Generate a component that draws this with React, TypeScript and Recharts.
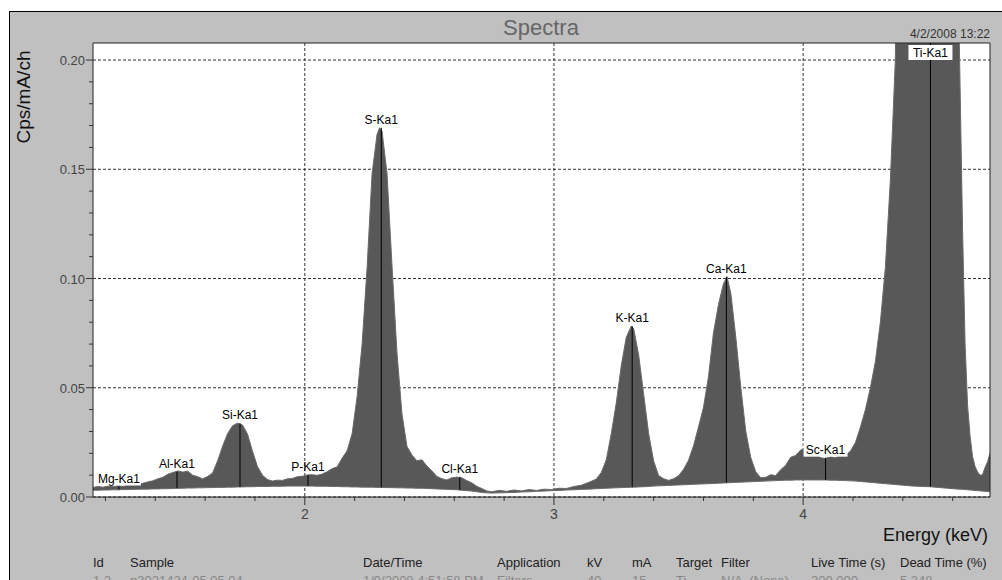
import { ComposedChart, Area, XAxis, YAxis, CartesianGrid, ReferenceLine, ReferenceArea } from 'recharts';

const FONT = 'Arial, "Liberation Sans", sans-serif';

// spectrum (keV, cps/mA/ch)
const ENERGY = [
  1.15, 1.17, 1.19, 1.21, 1.23, 1.25, 1.27, 1.29, 1.31, 1.33,
  1.35, 1.37, 1.39, 1.41, 1.43, 1.45, 1.47, 1.49, 1.51, 1.53,
  1.55, 1.57, 1.59, 1.61, 1.63, 1.65, 1.67, 1.69, 1.71, 1.73,
  1.75, 1.77, 1.79, 1.81, 1.83, 1.85, 1.87, 1.89, 1.91, 1.93,
  1.95, 1.97, 1.99, 2.01, 2.03, 2.05, 2.07, 2.09, 2.11, 2.13,
  2.15, 2.17, 2.19, 2.21, 2.23, 2.25, 2.27, 2.29, 2.30, 2.31,
  2.33, 2.35, 2.37, 2.39, 2.41, 2.43, 2.45, 2.47, 2.49, 2.51,
  2.53, 2.55, 2.57, 2.59, 2.61, 2.63, 2.65, 2.67, 2.69, 2.71,
  2.73, 2.75, 2.78, 2.81, 2.84, 2.87, 2.90, 2.93, 2.96, 2.99,
  3.02, 3.05, 3.08, 3.11, 3.14, 3.17, 3.19, 3.21, 3.23, 3.25,
  3.27, 3.29, 3.31, 3.32, 3.34, 3.36, 3.38, 3.40, 3.42, 3.44,
  3.46, 3.48, 3.50, 3.52, 3.54, 3.56, 3.58, 3.60, 3.62, 3.64,
  3.66, 3.68, 3.695, 3.71, 3.73, 3.75, 3.77, 3.79, 3.81, 3.83,
  3.85, 3.87, 3.89, 3.91, 3.93, 3.95, 3.97, 3.99, 4.01, 4.03,
  4.05, 4.07, 4.09, 4.11, 4.13, 4.15, 4.17, 4.19, 4.21, 4.23,
  4.25, 4.27, 4.29, 4.31, 4.33, 4.35, 4.36, 4.37, 4.38, 4.40,
  4.44, 4.48, 4.51, 4.54, 4.58, 4.61, 4.625, 4.64, 4.65, 4.66,
  4.67, 4.68, 4.69, 4.70, 4.71, 4.72, 4.73, 4.74, 4.75,
];

const COUNTS = [
  0.0044, 0.0048, 0.0045, 0.0050, 0.0047, 0.0052, 0.0049, 0.0054, 0.0056, 0.0059,
  0.0063, 0.0069, 0.0074, 0.0083, 0.0090, 0.0104, 0.0112, 0.0119, 0.0114, 0.0118,
  0.0100, 0.0093, 0.0083, 0.0094, 0.0110, 0.0165, 0.0232, 0.0290, 0.0326, 0.0338,
  0.0330, 0.0288, 0.0210, 0.0140, 0.0100, 0.0080, 0.0073, 0.0077, 0.0076, 0.0083,
  0.0085, 0.0093, 0.0095, 0.0101, 0.0102, 0.0099, 0.0105, 0.0116, 0.0130, 0.0138,
  0.0178, 0.0212, 0.0290, 0.0460, 0.0700, 0.1050, 0.1480, 0.1660, 0.1690, 0.1675,
  0.1480, 0.1060, 0.0660, 0.0380, 0.0232, 0.0192, 0.0166, 0.0170, 0.0142, 0.0120,
  0.0094, 0.0084, 0.0078, 0.0088, 0.0091, 0.0088, 0.0075, 0.0065, 0.0049, 0.0039,
  0.0028, 0.0024, 0.0030, 0.0026, 0.0032, 0.0028, 0.0034, 0.0030, 0.0036, 0.0034,
  0.0040, 0.0039, 0.0048, 0.0054, 0.0067, 0.0082, 0.0112, 0.0170, 0.0290, 0.0430,
  0.0600, 0.0730, 0.0782, 0.0770, 0.0650, 0.0470, 0.0290, 0.0165, 0.0098, 0.0084,
  0.0076, 0.0084, 0.0097, 0.0126, 0.0168, 0.0234, 0.0320, 0.0410, 0.0550, 0.0750,
  0.0880, 0.0975, 0.1008, 0.0930, 0.0730, 0.0500, 0.0300, 0.0180, 0.0115, 0.0088,
  0.0090, 0.0102, 0.0098, 0.0125, 0.0145, 0.0182, 0.0190, 0.0215, 0.0222, 0.0205,
  0.0200, 0.0180, 0.0176, 0.0185, 0.0180, 0.0196, 0.0190, 0.0210, 0.0250, 0.0320,
  0.0400, 0.0500, 0.0620, 0.0800, 0.1050, 0.1450, 0.1720, 0.2000, 0.2800, 0.5500,
  1.0000, 1.4000, 1.5000, 1.3000, 0.8000, 0.4000, 0.2200, 0.1220, 0.0700, 0.0420,
  0.0280, 0.0185, 0.0140, 0.0115, 0.0100, 0.0102, 0.0135, 0.0160, 0.0200,
];

const BACKGROUND = [
  0.0031, 0.0031, 0.0032, 0.0032, 0.0033, 0.0033, 0.0034, 0.0034, 0.0035, 0.0035,
  0.0036, 0.0036, 0.0037, 0.0037, 0.0038, 0.0038, 0.0039, 0.0040, 0.0040, 0.0041,
  0.0041, 0.0042, 0.0042, 0.0043, 0.0043, 0.0044, 0.0044, 0.0045, 0.0045, 0.0046,
  0.0046, 0.0047, 0.0047, 0.0048, 0.0048, 0.0048, 0.0049, 0.0049, 0.0049, 0.0050,
  0.0050, 0.0050, 0.0050, 0.0050, 0.0050, 0.0049, 0.0049, 0.0049, 0.0048, 0.0048,
  0.0047, 0.0047, 0.0046, 0.0046, 0.0045, 0.0045, 0.0045, 0.0044, 0.0044, 0.0044,
  0.0043, 0.0043, 0.0042, 0.0042, 0.0041, 0.0041, 0.0040, 0.0040, 0.0039, 0.0038,
  0.0037, 0.0036, 0.0035, 0.0034, 0.0033, 0.0031, 0.0029, 0.0027, 0.0024, 0.0021,
  0.0019, 0.0018, 0.0019, 0.0020, 0.0021, 0.0023, 0.0024, 0.0026, 0.0027, 0.0029,
  0.0030, 0.0032, 0.0033, 0.0035, 0.0036, 0.0038, 0.0039, 0.0040, 0.0041, 0.0042,
  0.0043, 0.0044, 0.0045, 0.0045, 0.0046, 0.0047, 0.0048, 0.0050, 0.0051, 0.0052,
  0.0053, 0.0054, 0.0055, 0.0056, 0.0057, 0.0058, 0.0059, 0.0060, 0.0061, 0.0062,
  0.0063, 0.0064, 0.0065, 0.0066, 0.0067, 0.0068, 0.0069, 0.0070, 0.0071, 0.0072,
  0.0073, 0.0074, 0.0075, 0.0076, 0.0077, 0.0077, 0.0078, 0.0078, 0.0078, 0.0078,
  0.0078, 0.0078, 0.0078, 0.0077, 0.0077, 0.0076, 0.0075, 0.0074, 0.0073, 0.0071,
  0.0069, 0.0067, 0.0065, 0.0063, 0.0061, 0.0059, 0.0058, 0.0057, 0.0056, 0.0054,
  0.0050, 0.0048, 0.0047, 0.0044, 0.0040, 0.0037, 0.0036, 0.0035, 0.0034, 0.0033,
  0.0032, 0.0031, 0.0030, 0.0029, 0.0028, 0.0027, 0.0026, 0.0025, 0.0024,
];

// element lines
const PEAK_NAMES = ['Mg-Ka1', 'Al-Ka1', 'Si-Ka1', 'P-Ka1', 'S-Ka1', 'Cl-Ka1', 'K-Ka1', 'Ca-Ka1', 'Sc-Ka1', 'Ti-Ka1'];
const PEAK_ENERGY = [1.254, 1.487, 1.740, 2.013, 2.307, 2.622, 3.314, 3.692, 4.090, 4.511];
const PEAK_BASE = [0.0034, 0.0040, 0.0046, 0.0050, 0.0044, 0.0032, 0.0045, 0.0065, 0.0078, 0.0047];
const PEAK_TOP = [0.0048, 0.0116, 0.0337, 0.0100, 0.1690, 0.0092, 0.0782, 0.1008, 0.0180, 0.2078];
const BOXED = ['Mg-Ka1', 'Sc-Ka1', 'Ti-Ka1'];

const X_MIN = 1.15;
const X_MAX = 4.75;
const Y_MAX = 0.2078;

const X_TICKS = [1.2, 1.4, 1.6, 1.8, 2, 2.2, 2.4, 2.6, 2.8, 3, 3.2, 3.4, 3.6, 3.8, 4, 4.2, 4.4, 4.6];
const X_MAJOR = [2, 3, 4];
const Y_TICKS = [0, 0.01, 0.02, 0.03, 0.04, 0.05, 0.06, 0.07, 0.08, 0.09, 0.1, 0.11, 0.12, 0.13, 0.14, 0.15, 0.16, 0.17, 0.18, 0.19, 0.2];
const Y_MAJOR = [0, 0.05, 0.1, 0.15, 0.2];

const TABLE_HEADERS = ['Id', 'Sample', 'Date/Time', 'Application', 'kV', 'mA', 'Target', 'Filter', 'Live Time (s)', 'Dead Time (%)'];
const TABLE_ROW = ['1.2', 'p3021434-05 05 04', '1/9/2008 4:51:58 PM', 'Filters', '40', '15', 'Ti', 'N/A  (None)', '300.000', '5.348'];
const COL_X = [93, 130, 363, 497, 587, 632, 676, 721, 811, 900];

const data = ENERGY.map((e, i) => ({ e, range: [BACKGROUND[i], COUNTS[i]] }));

const isIn = (list: number[], v: number) => list.some(m => Math.abs(m - v) < 1e-6);

const XTick = (props: any) => {
  const { x, y, payload } = props;
  const major = isIn(X_MAJOR, payload.value);
  return (
    <g>
      <line x1={x} x2={x} y1={y} y2={y + (major ? 8 : 4)} stroke="#333" />
      {major && (
        <text x={x} y={y + 22} textAnchor="middle" fontSize={14} fill="#444" fontFamily={FONT}>
          {payload.value}
        </text>
      )}
    </g>
  );
};

const YTick = (props: any) => {
  const { x, y, payload } = props;
  const major = isIn(Y_MAJOR, payload.value);
  return (
    <g>
      <line x1={x - (major ? 7 : 4)} x2={x} y1={y} y2={y} stroke="#333" />
      {major && (
        <text x={x - 8} y={y + 5} textAnchor="end" fontSize={13} fill="#444" fontFamily={FONT}>
          {Number(payload.value).toFixed(2)}
        </text>
      )}
    </g>
  );
};

function PeakTag(props: any) {
  const { viewBox, name, boxed, inside } = props;
  if (!viewBox) return null;
  const x = viewBox.x + (viewBox.width || 0) / 2;
  const base = inside ? viewBox.y + 14 : viewBox.y - 4;
  return (
    <g>
      {boxed && <rect x={x - 22} y={base - 12} width={44} height={15} fill="#fff" />}
      <text x={x} y={base} textAnchor="middle" fontSize={12} fill="#000" fontFamily={FONT}>
        {name}
      </text>
    </g>
  );
}

export default function App() {
  return (
    <div style={{ position: 'absolute', left: 0, top: 0, width: 1002, height: 580, background: '#fff', overflow: 'hidden' }}>
      <div
        style={{
          position: 'absolute', left: 9, top: 11, width: 993, height: 569, boxSizing: 'border-box',
          background: '#c0c0c0', borderTop: '1px solid #000', borderLeft: '1px solid #000',
        }}
      />
      <div style={{ position: 'absolute', left: 0, top: 0 }}>
        <ComposedChart width={1002} height={580} data={data} margin={{ top: 43, right: 12, bottom: 43, left: 33 }}>
          <CartesianGrid
            fill="#fff"
            stroke="#333"
            strokeDasharray="3 2"
            horizontalValues={Y_MAJOR}
            verticalValues={X_MAJOR}
          />
          <XAxis
            type="number"
            dataKey="e"
            domain={[X_MIN, X_MAX]}
            allowDataOverflow
            ticks={X_TICKS}
            interval={0}
            tickSize={0}
            tickMargin={0}
            tickLine={false}
            axisLine={false}
            tick={XTick}
            height={40}
          />
          <YAxis
            type="number"
            domain={[0, Y_MAX]}
            allowDataOverflow
            ticks={Y_TICKS}
            interval={0}
            tickSize={0}
            tickMargin={0}
            tickLine={false}
            axisLine={false}
            tick={YTick}
            width={60}
          />
          <Area
            type="linear"
            dataKey="range"
            fill="#585858"
            fillOpacity={1}
            stroke="#6a6a6a"
            strokeWidth={1}
            dot={false}
            activeDot={false}
            isAnimationActive={false}
          />
          {PEAK_NAMES.map((name, i) => (
            <ReferenceLine
              key={name}
              segment={[{ x: PEAK_ENERGY[i], y: PEAK_BASE[i] }, { x: PEAK_ENERGY[i], y: PEAK_TOP[i] }]}
              stroke="#000"
              strokeWidth={1}
              ifOverflow="visible"
              label={<PeakTag name={name} boxed={BOXED.includes(name)} inside={name === 'Ti-Ka1'} />}
            />
          ))}
          <ReferenceArea x1={X_MIN} x2={X_MAX} y1={0} y2={Y_MAX} fill="none" stroke="#222" strokeWidth={1} ifOverflow="visible" />
        </ComposedChart>
      </div>
      <svg width={1002} height={580} style={{ position: 'absolute', left: 0, top: 0, pointerEvents: 'none' }}>
        <text x={541} y={35} textAnchor="middle" fontSize={22} fill="#666" fontFamily={FONT}>Spectra</text>
        <text x={990} y={38} textAnchor="end" fontSize={12} fill="#333" fontFamily={FONT}>4/2/2008 13:22</text>
        <text x={30} y={97} transform="rotate(-90 30 97)" textAnchor="middle" fontSize={19} fill="#111" fontFamily={FONT}>Cps/mA/ch</text>
        <text x={988} y={541} textAnchor="end" fontSize={18} fill="#111" fontFamily={FONT}>Energy (keV)</text>
        {TABLE_HEADERS.map((h, i) => (
          <text key={h} x={COL_X[i]} y={567} fontSize={13} fill="#222" fontFamily={FONT}>{h}</text>
        ))}
        {TABLE_ROW.map((v, i) => (
          <text key={i} x={COL_X[i]} y={585} fontSize={13} fill="#888" fontFamily={FONT} style={{ whiteSpace: 'pre' }}>{v}</text>
        ))}
      </svg>
    </div>
  );
}
